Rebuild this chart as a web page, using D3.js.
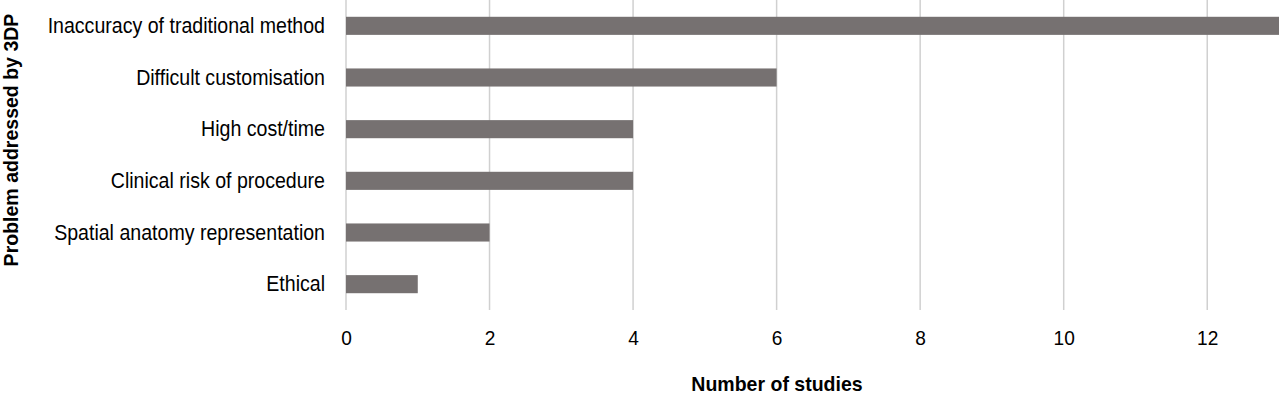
<!DOCTYPE html>
<html>
<head>
<meta charset="utf-8">
<script src="https://cdn.jsdelivr.net/npm/d3@7"></script>
<style>
  body { margin: 0; background: #fff; }
  text { font-family: "Liberation Sans Narrow", "Arial Narrow", "Liberation Sans", sans-serif; fill: #000; }
</style>
</head>
<body>
<div id="chart"></div>
<script>
// chart size
var chart_width  = 1280;
var chart_height = 395;

// data
var problems = ["Inaccuracy of traditional method", "Difficult customisation", "High cost/time",
                "Clinical risk of procedure", "Spatial anatomy representation", "Ethical"];
var studies  = [13, 6, 4, 4, 2, 1];
var xTicks   = [0, 2, 4, 6, 8, 10, 12];

var rows = problems.map(function(p, i){ return {name: p, value: studies[i]}; });

// plot area (note: "top" is reserved on window, so use plot_* names)
var plot_left = 346, plot_right = 1279, plot_top = 0, plot_bottom = 310;
// no narrow font installed, so squeeze the text sideways a bit
var squeeze = 0.89;

var x = d3.scaleLinear().domain([0, 13]).range([plot_left, plot_right]);
var y = d3.scaleBand().domain(problems).range([plot_top, plot_bottom])
    .paddingInner(0.65).paddingOuter(0.325);

var svg = d3.select("#chart")
    .append("svg")
    .attr("width", chart_width)
    .attr("height", chart_height);

// vertical gridlines
svg.selectAll(".grid")
    .data(xTicks)
    .enter()
    .append("line")
    .attr("x1", function(d){ return x(d); })
    .attr("x2", function(d){ return x(d); })
    .attr("y1", plot_top)
    .attr("y2", plot_bottom)
    .attr("stroke", "#d0d0d0")
    .attr("stroke-width", 1.5);

// bars
svg.selectAll(".bar")
    .data(rows)
    .enter()
    .append("rect")
    .attr("x", x(0))
    .attr("y", function(d){ return y(d.name); })
    .attr("width", function(d){ return x(d.value) - x(0); })
    .attr("height", y.bandwidth())
    .attr("fill", "#767171");

// category labels
var yAxis = svg.append("g")
    .attr("transform", "translate(" + plot_left + ",0)")
    .call(d3.axisLeft(y).tickSize(0).tickPadding(21));
yAxis.select(".domain").remove();
yAxis.selectAll("text")
    .attr("font-size", 22)
    .style("font-family", null)
    .attr("x", -21 / squeeze)
    .attr("transform", "scale(" + squeeze + ",1)");

// x tick labels
var xAxis = svg.append("g")
    .attr("transform", "translate(0," + plot_bottom + ")")
    .call(d3.axisBottom(x).tickValues(xTicks).tickSize(0).tickPadding(20));
xAxis.select(".domain").remove();
xAxis.selectAll("text")
    .attr("font-size", 21)
    .style("font-family", null)
    .attr("transform", "scale(0.91,1)");

// axis titles
svg.append("text")
    .attr("transform", "translate(777,391) scale(0.93,1)")
    .attr("text-anchor", "middle")
    .attr("font-size", 21)
    .attr("font-weight", "bold")
    .text("Number of studies");

svg.append("text")
    .attr("transform", "translate(18,140) rotate(-90) scale(0.93,1)")
    .attr("text-anchor", "middle")
    .attr("font-size", 21)
    .attr("font-weight", "bold")
    .text("Problem addressed by 3DP");
</script>
</body>
</html>
